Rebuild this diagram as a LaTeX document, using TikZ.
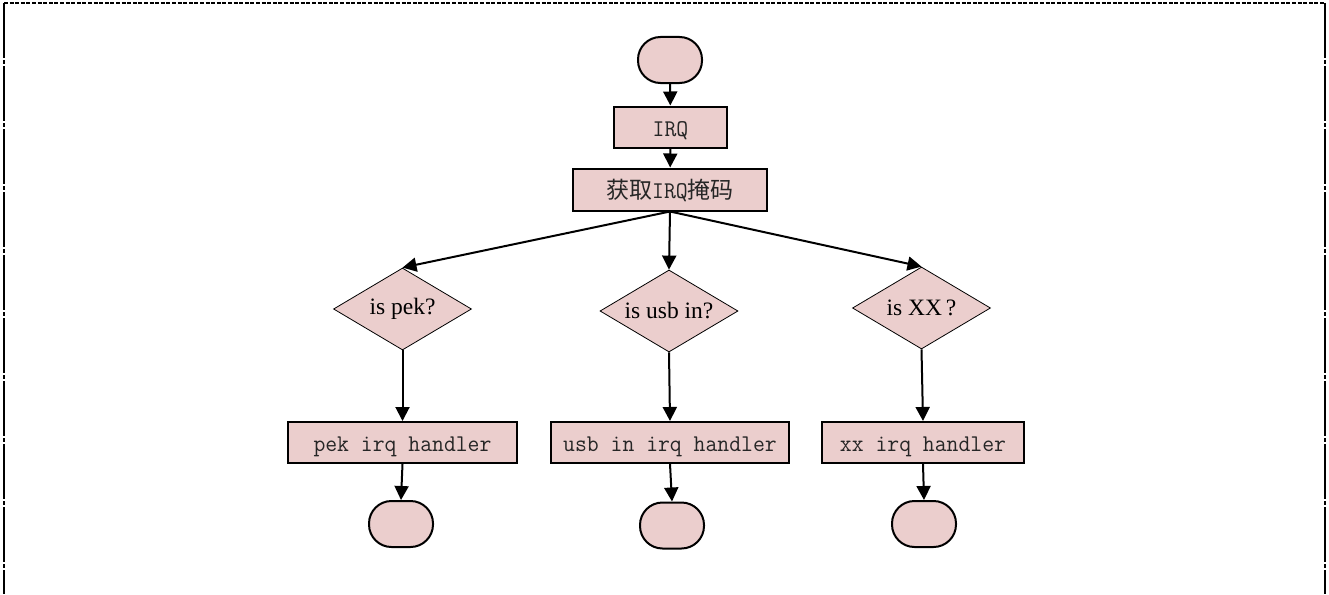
\documentclass[tikz,border=0pt]{standalone}
\usepackage{fontspec}
\setmainfont{Liberation Serif}
\setmonofont[FakeStretch=0.96]{Latin Modern Mono}
\newfontfamily\cjk{Noto Sans CJK SC}
\usetikzlibrary{arrows.meta,shapes.geometric}
\definecolor{boxfill}{RGB}{235,206,205}
\tikzset{
  terminal/.style={draw=black, line width=2pt, fill=boxfill, rectangle,
    rounded corners=22.5pt, minimum width=64pt, minimum height=46pt, inner sep=0pt},
  procbox/.style={draw=black, line width=2pt, fill=boxfill, rectangle,
    minimum height=41pt, inner sep=0pt, text=black!85,
    text height=19pt, text depth=1pt,
    font=\ttfamily\fontsize{24}{27}\selectfont},
  decision/.style={draw=black, line width=0.8pt, fill=boxfill, diamond, aspect=1.67,
    minimum width=138pt, minimum height=82pt, inner sep=0pt,
    font=\fontsize{23.5}{26}\selectfont},
  flow/.style={draw=black, line width=2pt, -{Triangle[length=14pt,width=14pt]}},
  frameline/.style={draw=black, line width=2.2pt},
}
\newcommand{\zh}[1]{{\cjk\fontsize{23}{26}\selectfont #1}}
\begin{document}
\begin{tikzpicture}[x=1pt, y=-1pt]
  \useasboundingbox (0,0) rectangle (1329,594);
  % dashed frame (top and the two sides; bottom runs off the page)
  \draw[frameline, dash pattern=on 4pt off 1.6pt] (4,3) -- (1325,3);
  \draw[frameline, dash pattern=on 55pt off 2pt on 4pt off 2pt] (4,3) -- (4,594);
  \draw[frameline, dash pattern=on 55pt off 2pt on 4pt off 2pt] (1325,3) -- (1325,594);

  % main column
  \node[terminal] (start) at (670,60) {};
  \node[procbox, minimum width=113pt] (irq) at (670.5,127) {IRQ};
  \node[procbox, minimum width=194pt, minimum height=42pt] (mask) at (670,189.5)
    {\zh{获取}IRQ\zh{掩码}};

  % decisions
  \node[decision] (dpek) at (402.5,309) {is pek?};
  \node[decision] (dusb) at (669,311) {is usb in?};
  \node[decision] (dxx)  at (921.5,308) {is XX\,?};

  % handlers
  \node[procbox, minimum width=229pt] (hpek) at (402.5,442.5) {pek irq handler};
  \node[procbox, minimum width=238pt] (husb) at (670,442.5) {usb in irq handler};
  \node[procbox, minimum width=202pt] (hxx)  at (923,442.5) {xx irq handler};

  % end points
  \node[terminal] (epek) at (401,524) {};
  \node[terminal] (eusb) at (672,525.5) {};
  \node[terminal] (exx)  at (924,524) {};

  % connectors
  \draw[flow] (start) -- (irq);
  \draw[flow] (irq) -- (mask);
  \draw[flow] (mask.south) -- (dpek.north);
  \draw[flow] (mask.south) -- (dusb.north);
  \draw[flow] (mask.south) -- (dxx.north);
  \draw[flow] (dpek.south) -- (hpek.north);
  \draw[flow] (dusb.south) -- (husb.north);
  \draw[flow] (dxx.south) -- (hxx.north);
  \draw[flow] (hpek.south) -- (epek.north);
  \draw[flow] (husb.south) -- (eusb.north);
  \draw[flow] (hxx.south) -- (exx.north);
\end{tikzpicture}
\end{document}
